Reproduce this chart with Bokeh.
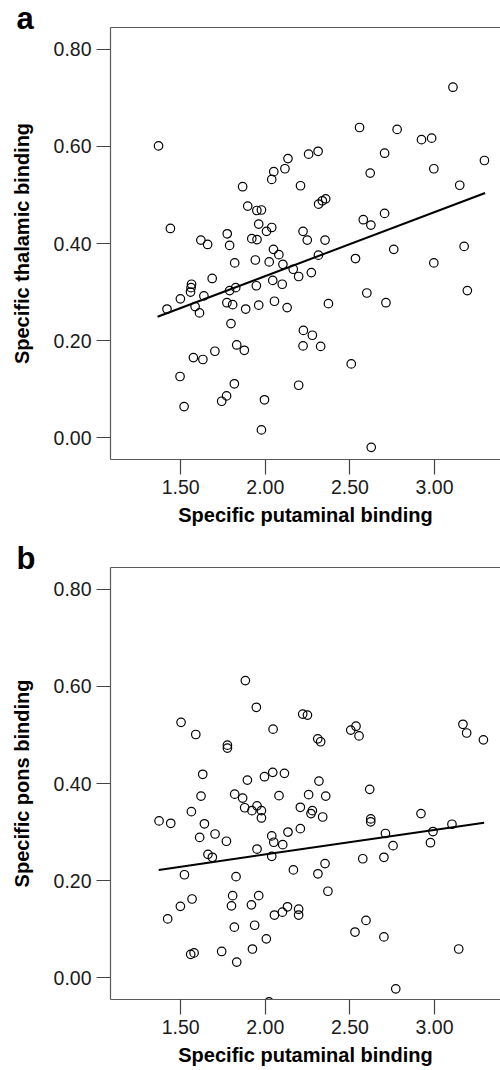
from bokeh.plotting import figure
from bokeh.models import FixedTicker, NumeralTickFormatter, LinearAxis, Range1d, Title
from bokeh.layouts import column
from bokeh.embed import file_html
from bokeh.resources import INLINE

FONT = "Liberation Sans"

# ---------------- data: panel a (putaminal vs thalamic) ----------------
x_a = [1.369, 3.109, 2.557, 2.779, 2.923, 2.983, 3.295, 2.312, 2.256, 2.134,
       2.116, 2.050, 2.038, 2.705, 2.620, 2.996, 1.866, 2.208, 3.149, 1.896,
       1.950, 1.977, 2.315, 2.337, 2.357, 2.705, 2.579, 2.624, 1.961, 2.038,
       2.007, 1.439, 1.775, 2.223, 2.248, 2.353, 1.619, 1.659, 1.920, 1.951,
       1.789, 2.048, 2.759, 3.175, 2.080, 1.941, 2.023, 1.819, 2.104, 2.314,
       2.533, 2.996, 2.165, 2.197, 2.272, 1.686, 2.044, 2.100, 1.947, 1.564,
       1.561, 1.558, 1.825, 1.789, 1.637, 1.498, 1.419, 1.585, 1.611, 1.773,
       1.807, 1.884, 1.961, 2.054, 2.129, 2.373, 2.600, 2.713, 3.194, 1.797,
       2.225, 2.278, 2.223, 2.327, 1.831, 1.876, 1.702, 1.575, 1.631, 2.508,
       1.496, 1.817, 2.197, 1.771, 1.742, 1.995, 1.520, 1.977, 2.626, 1.922]
y_a = [0.601, 0.722, 0.639, 0.635, 0.614, 0.617, 0.571, 0.590, 0.584, 0.575,
       0.554, 0.548, 0.532, 0.586, 0.545, 0.554, 0.517, 0.519, 0.520, 0.477,
       0.468, 0.469, 0.481, 0.488, 0.492, 0.462, 0.449, 0.438, 0.440, 0.433,
       0.425, 0.431, 0.420, 0.425, 0.407, 0.407, 0.407, 0.398, 0.410, 0.408,
       0.396, 0.388, 0.388, 0.394, 0.377, 0.366, 0.362, 0.360, 0.357, 0.376,
       0.369, 0.360, 0.347, 0.332, 0.340, 0.328, 0.324, 0.316, 0.313, 0.316,
       0.309, 0.300, 0.309, 0.303, 0.292, 0.286, 0.265, 0.270, 0.257, 0.278,
       0.274, 0.265, 0.273, 0.281, 0.268, 0.276, 0.298, 0.278, 0.303, 0.235,
       0.221, 0.211, 0.189, 0.188, 0.191, 0.180, 0.178, 0.165, 0.161, 0.152,
       0.126, 0.111, 0.108, 0.086, 0.075, 0.078, 0.064, 0.016, -0.020, -0.054]
fit_a_x = [1.363, 3.299]
fit_a_y = [0.249, 0.504]

# ---------------- data: panel b (putaminal vs pons) ----------------
x_b = [1.882, 1.947, 2.221, 2.249, 1.502, 1.589, 2.046, 2.505, 2.536, 2.554,
       3.168, 3.190, 3.289, 1.776, 1.776, 2.310, 2.327, 1.630, 1.894, 1.995,
       2.044, 2.113, 2.317, 2.617, 1.620, 1.819, 1.866, 2.081, 2.256, 2.357,
       1.563, 1.372, 1.441, 1.640, 1.878, 1.921, 1.951, 1.977, 1.977, 2.207,
       2.278, 2.270, 2.339, 2.623, 2.623, 2.920, 3.103, 2.710, 2.991, 1.612,
       1.703, 1.770, 2.038, 2.050, 2.103, 2.134, 2.207, 2.976, 2.755, 1.951,
       1.661, 1.687, 2.038, 2.576, 2.701, 2.353, 2.166, 1.522, 1.827, 2.311,
       2.370, 1.961, 1.807, 1.567, 1.498, 1.800, 1.918, 2.131, 2.197, 2.197,
       2.101, 2.054, 1.423, 2.595, 1.817, 1.937, 2.530, 2.701, 2.006, 1.924,
       3.143, 1.742, 1.559, 1.579, 1.831, 2.771, 2.022]
y_b = [0.612, 0.557, 0.543, 0.541, 0.526, 0.501, 0.512, 0.510, 0.518, 0.498,
       0.522, 0.504, 0.490, 0.479, 0.473, 0.492, 0.486, 0.419, 0.407, 0.414,
       0.423, 0.421, 0.405, 0.388, 0.374, 0.378, 0.370, 0.375, 0.377, 0.374,
       0.342, 0.323, 0.318, 0.317, 0.350, 0.344, 0.354, 0.344, 0.329, 0.351,
       0.344, 0.338, 0.331, 0.327, 0.321, 0.338, 0.316, 0.297, 0.301, 0.289,
       0.296, 0.281, 0.292, 0.279, 0.274, 0.300, 0.307, 0.278, 0.272, 0.265,
       0.254, 0.248, 0.250, 0.245, 0.248, 0.235, 0.222, 0.212, 0.208, 0.214,
       0.178, 0.169, 0.169, 0.162, 0.147, 0.148, 0.150, 0.146, 0.141, 0.129,
       0.135, 0.129, 0.121, 0.118, 0.104, 0.108, 0.094, 0.084, 0.080, 0.059,
       0.059, 0.054, 0.048, 0.051, 0.032, -0.023, -0.050]
fit_b_x = [1.370, 3.293]
fit_b_y = [0.222, 0.319]

x_ticks = [1.5, 2.0, 2.5, 3.0]
y_ticks = [0.0, 0.2, 0.4, 0.6, 0.8]
x_title = "Specific putaminal binding"
y_title_a = "Specific thalamic binding"
y_title_b = "Specific pons binding"

AXIS_COLOR = "#5a5a5a"
TEXT_COLOR = "#1a1a1a"
X0, X1 = 1.085, 3.39
Y0, Y1 = -0.045, 0.845


def make_panel(xs, ys, fx, fy, ytitle, letter, height):
    p = figure(width=500, height=height, output_backend="svg", toolbar_location=None,
               title=None, x_range=Range1d(X0, X1), y_range=Range1d(Y0, Y1),
               min_border_left=110, min_border_right=0, min_border_top=27,
               min_border_bottom=height - 27 - 432)
    p.outline_line_color = None
    p.xgrid.visible = False
    p.ygrid.visible = False
    p.background_fill_color = "white"
    p.border_fill_color = "white"

    p.scatter(xs, ys, size=8.5, fill_color=None, line_color="black", line_width=1.2)
    p.line(fx, fy, line_color="black", line_width=2)

    xa = p.xaxis[0]
    xa.ticker = FixedTicker(ticks=x_ticks)
    xa.formatter = NumeralTickFormatter(format="0.00")
    ya = p.yaxis[0]
    ya.ticker = FixedTicker(ticks=y_ticks)
    ya.formatter = NumeralTickFormatter(format="0.00")
    for ax, tout in ((xa, 15), (ya, 14)):
        ax.major_tick_out = tout
        ax.major_tick_in = 0
        ax.minor_tick_out = 0
        ax.minor_tick_in = 0
        ax.axis_line_color = AXIS_COLOR
        ax.axis_line_width = 1.2
        ax.major_tick_line_color = "#444444"
        ax.major_tick_line_width = 1.2
        ax.major_label_text_font = FONT
        ax.major_label_text_font_size = "19.5px"
        ax.major_label_text_color = TEXT_COLOR
        ax.axis_label_text_font = FONT
        ax.axis_label_text_font_size = "20px"
        ax.axis_label_text_font_style = "bold"
        ax.axis_label_text_color = "black"
    xa.axis_label = x_title
    xa.major_label_standoff = 5
    xa.axis_label_standoff = 7
    ya.axis_label = ytitle
    ya.major_label_standoff = 5
    ya.axis_label_standoff = 18

    top = LinearAxis(ticker=FixedTicker(ticks=[]), major_label_text_font_size="0px",
                     major_tick_out=0, major_tick_in=0, minor_tick_out=0, minor_tick_in=0,
                     axis_line_color=AXIS_COLOR, axis_line_width=1.2)
    p.add_layout(top, "above")

    # panel letter, sitting just left of the frame's top edge
    p.add_layout(Title(text=letter, align="left", offset=-94, standoff=-16,
                       text_font=FONT, text_font_style="bold", text_font_size="31px",
                       text_color="black"), "above")
    return p


pa = make_panel(x_a, y_a, fit_a_x, fit_a_y, y_title_a, "a", 540)
pb = make_panel(x_b, y_b, fit_b_x, fit_b_y, y_title_b, "b", 530)

layout = column(pa, pb, spacing=0)
open("out.html", "w").write(file_html(layout, INLINE))
